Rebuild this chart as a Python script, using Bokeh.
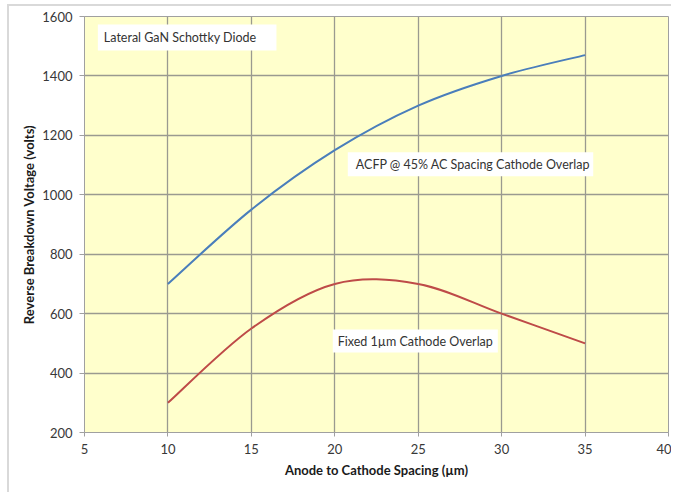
from bokeh.plotting import figure
from bokeh.models import Label, FixedTicker, Range1d
from bokeh.embed import file_html
from bokeh.resources import INLINE

# ---- data ----
spacing = [10, 15, 20, 25, 30, 35]                     # Anode to cathode spacing (um)
acfp_voltage = [700, 950, 1150, 1300, 1400, 1470]      # ACFP @ 45% AC spacing cathode overlap
fixed_voltage = [300, 550, 700, 700, 600, 500]         # Fixed 1um cathode overlap
x_ticks = [5, 10, 15, 20, 25, 30, 35, 40]
y_ticks = [200, 400, 600, 800, 1000, 1200, 1400, 1600]
title_text = "Lateral GaN Schottky Diode"
acfp_text = "ACFP @ 45% AC Spacing Cathode Overlap"
fixed_text = "Fixed 1\u00b5m Cathode Overlap"
x_title = "Anode to Cathode Spacing (\u00b5m)"
y_title = "Reverse Breakdown Voltage (volts)"

FONT = "Lato"

p = figure(width=664, height=488, output_backend="svg", toolbar_location=None,
           x_range=Range1d(5, 40), y_range=Range1d(200, 1600),
           min_border_left=75, min_border_right=5, min_border_top=10, min_border_bottom=62)
p.styles = {"margin-top": "4px", "margin-left": "7px",
            "border-top": "2px solid #d9d9d9", "border-left": "2px solid #d9d9d9"}

p.background_fill_color = "#ffffcc"
p.border_fill_color = "white"
p.outline_line_color = "#a0a0a0"
p.outline_line_width = 1

p.xaxis.ticker = FixedTicker(ticks=x_ticks)
p.yaxis.ticker = FixedTicker(ticks=y_ticks)
p.xgrid.ticker = FixedTicker(ticks=x_ticks)
p.ygrid.ticker = FixedTicker(ticks=y_ticks)
for g in (p.xgrid, p.ygrid):
    g.grid_line_color = "#9a9a90"
    g.grid_line_width = 1.3

for ax in (p.xaxis, p.yaxis):
    ax.axis_line_color = "#a0a0a0"
    ax.major_tick_line_color = "#a0a0a0"
    ax.minor_tick_line_color = None
    ax.major_tick_in = 0
    ax.major_label_text_font = FONT
    ax.major_label_text_font_size = "13px"
    ax.major_label_text_color = "#383838"
    ax.axis_label_text_font = FONT
    ax.axis_label_text_font_size = "13px"
    ax.axis_label_text_font_style = "bold"
    ax.axis_label_text_color = "#1a1a1a"
p.xaxis.major_tick_out = 4
p.yaxis.major_tick_out = 5
p.xaxis.major_label_standoff = 7
p.yaxis.major_label_standoff = 7
p.xaxis.axis_label = x_title
p.yaxis.axis_label = y_title
p.xaxis.axis_label_standoff = 5
p.yaxis.axis_label_standoff = 2


def smooth(xs, ys):
    """Bezier segments through the data points (Excel-style smoothing)."""
    n = len(xs)
    seg = dict(x0=[], y0=[], x1=[], y1=[], cx0=[], cy0=[], cx1=[], cy1=[])
    for i in range(n - 1):
        a = i - 1 if i > 0 else i
        d = i + 2 if i + 2 < n else i + 1
        seg["x0"].append(xs[i]); seg["y0"].append(ys[i])
        seg["x1"].append(xs[i + 1]); seg["y1"].append(ys[i + 1])
        seg["cx0"].append(xs[i] + (xs[i + 1] - xs[a]) / 6)
        seg["cy0"].append(ys[i] + (ys[i + 1] - ys[a]) / 6)
        seg["cx1"].append(xs[i + 1] - (xs[d] - xs[i]) / 6)
        seg["cy1"].append(ys[i + 1] - (ys[d] - ys[i]) / 6)
    return seg


p.bezier(line_color="#4a7ebb", line_width=2, **smooth(spacing, acfp_voltage))
p.bezier(line_color="#be4b48", line_width=2, **smooth(spacing, fixed_voltage))

common = dict(text_font=FONT, text_font_size="12.5px", text_color="#333333",
              text_baseline="middle", background_fill_color="white")
p.add_layout(Label(x=5.8, y=1529, text=title_text,
                   padding=dict(left=6, right=20, top=5, bottom=6), **common))
p.add_layout(Label(x=20.78, y=1103, text=acfp_text,
                   padding=dict(left=8, right=3, top=5, bottom=4), **common))
p.add_layout(Label(x=19.88, y=508, text=fixed_text,
                   padding=dict(left=5, right=5, top=5, bottom=3), **common))

open("out.html", "w").write(file_html(p, INLINE))
